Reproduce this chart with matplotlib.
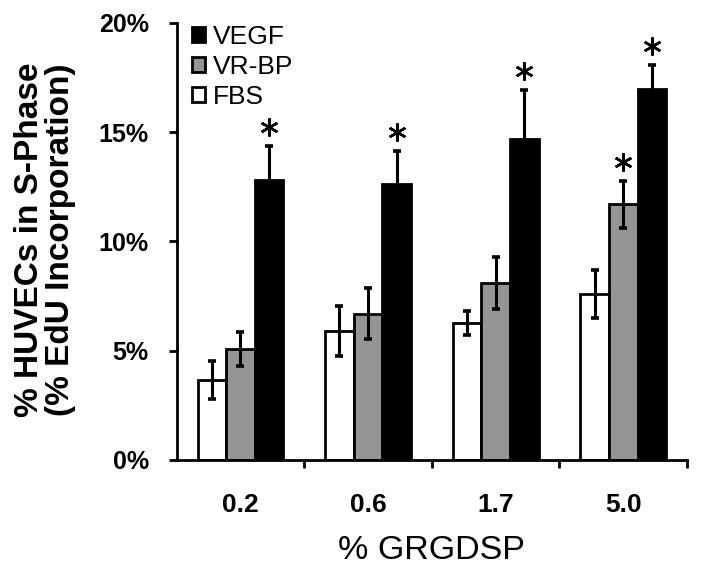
import numpy as np
import matplotlib
matplotlib.use("Agg")
import matplotlib.pyplot as plt
from matplotlib.patches import Patch
from matplotlib.ticker import PercentFormatter

plt.rcParams['font.family'] = ['Liberation Sans', 'DejaVu Sans']

# data (% of HUVECs in S-phase)
doses = ['0.2', '0.6', '1.7', '5.0']
fbs = [3.65, 5.9, 6.25, 7.6]
fbs_err = [0.88, 1.15, 0.55, 1.08]
vrbp = [5.1, 6.7, 8.1, 11.7]
vrbp_err = [0.78, 1.15, 1.2, 1.08]
vegf = [12.8, 12.65, 14.7, 17.0]
vegf_err = [1.57, 1.5, 2.25, 1.08]
# which bars get a significance star
star_vrbp = [False, False, False, True]
star_vegf = [True, True, True, True]

fig = plt.figure(figsize=(7.12, 5.76), dpi=100)
ax = fig.add_axes([0.248, 0.2014, 0.717, 0.7587])

x = np.arange(len(doses))
w = 0.224
ekw = dict(ecolor='black', elinewidth=2.2, capsize=3.2, capthick=2.6)

ax.bar(x - w, fbs, w, yerr=fbs_err, color='white', edgecolor='black', linewidth=2, error_kw=ekw, zorder=2)
ax.bar(x, vrbp, w, yerr=vrbp_err, color='#959595', edgecolor='black', linewidth=2, error_kw=ekw, zorder=2)
ax.bar(x + w, vegf, w, yerr=vegf_err, color='black', edgecolor='black', linewidth=2, error_kw=ekw, zorder=2)

# stars above the error bars
for xs, vals, errs, flags in [(x, vrbp, vrbp_err, star_vrbp), (x + w, vegf, vegf_err, star_vegf)]:
    for xi, v, e, f in zip(xs, vals, errs, flags):
        if f:
            ax.plot(xi, v + e + 0.85, marker=(6, 2, 0), ms=13, mew=1.8, color='black', zorder=3)

ax.set_xlim(-0.5, 3.5)
ax.set_ylim(0, 20)
ax.set_yticks([0, 5, 10, 15, 20])
ax.yaxis.set_major_formatter(PercentFormatter(decimals=0))

ax.set_xticks(x)
ax.set_xticklabels(doses)
ax.set_xticks(np.arange(0.5, 4, 1), minor=True)
ax.tick_params(axis='x', which='major', length=0, pad=24, labelsize=19)
ax.tick_params(axis='x', which='minor', length=6, width=2)
ax.tick_params(axis='y', length=6, width=2, pad=14, labelsize=18)
for lab in ax.get_xticklabels() + ax.get_yticklabels():
    lab.set_fontweight('bold')

for s in ['top', 'right']:
    ax.spines[s].set_visible(False)
for s in ['left', 'bottom']:
    ax.spines[s].set_linewidth(2)

ax.set_xlabel('% GRGDSP', fontsize=24.5, labelpad=13)
ax.set_ylabel('% HUVECs in S-Phase\n(% EdU Incorporation)', fontsize=24, fontweight='bold',
              linespacing=1.0, va='center')
ax.yaxis.set_label_coords(-0.258, 0.505)

handles = [Patch(facecolor='black', edgecolor='black', linewidth=2, label='VEGF'),
           Patch(facecolor='#959595', edgecolor='black', linewidth=2, label='VR-BP'),
           Patch(facecolor='white', edgecolor='black', linewidth=2, label='FBS')]
ax.legend(handles=handles, loc='upper left', frameon=False, fontsize=19,
          handlelength=0.5, handleheight=0.5, handletextpad=0.3, labelspacing=0.22,
          borderaxespad=0.0, borderpad=0.0, bbox_to_anchor=(0.03, 0.995))

fig.savefig('out.png', dpi=100)
